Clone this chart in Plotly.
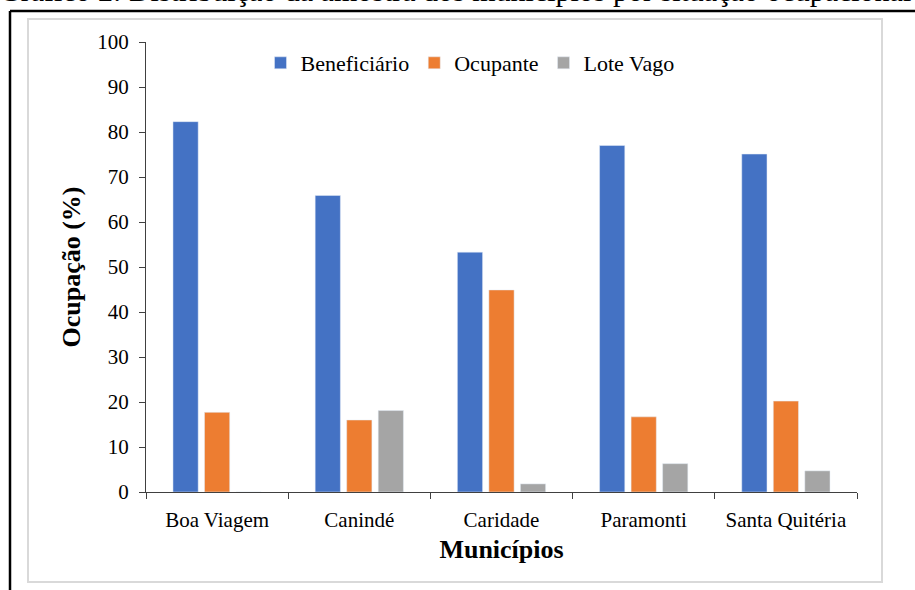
import plotly.graph_objects as go

categories = ["Boa Viagem", "Canindé", "Caridade", "Paramonti", "Santa Quitéria"]
beneficiario = [82.3, 65.9, 53.3, 77.0, 75.1]
ocupante = [17.7, 16.0, 44.9, 16.7, 20.2]
lote_vago = [0.0, 18.1, 1.8, 6.3, 4.7]
y_ticks = [0, 10, 20, 30, 40, 50, 60, 70, 80, 90, 100]

W, H = 915, 590
L, R, T, B = 146, 857, 42, 492


def px_x(p):
    return (p - L) / (R - L)


def px_y(p):
    return (B - p) / (B - T)


FONT = "Liberation Serif, Times New Roman, serif"

fig = go.Figure()
fig.add_bar(name="Beneficiário", x=categories, y=beneficiario, marker_color="#4472C4")
fig.add_bar(name="Ocupante", x=categories, y=ocupante, marker_color="#ED7D31")
fig.add_bar(name="Lote Vago", x=categories, y=lote_vago, marker_color="#A5A5A5")

fig.update_layout(
    width=W, height=H,
    margin=dict(l=L, r=W - R, t=T, b=H - B),
    paper_bgcolor="white", plot_bgcolor="white",
    barmode="group", bargap=0.335, bargroupgap=0.2,
    font=dict(family=FONT, size=21, color="black"),
    legend=dict(orientation="h", x=px_x(470), y=px_y(63), xanchor="center", yanchor="middle",
                font=dict(family=FONT, size=22, color="black"), itemwidth=30,
                bgcolor="rgba(0,0,0,0)"),
    showlegend=True,
)
fig.update_xaxes(
    showline=True, linecolor="#404040", linewidth=1,
    ticks="outside", tickson="boundaries", ticklen=6, tickcolor="#404040",
    tickfont=dict(family=FONT, size=21, color="black"), ticklabelstandoff=9,
    title=dict(text="<b>Municípios</b>", font=dict(family=FONT, size=26, color="black"), standoff=8),
    showgrid=False,
)
fig.update_yaxes(
    range=[0, 100], tickvals=y_ticks,
    showline=True, linecolor="#404040", linewidth=1,
    ticks="outside", ticklen=6, tickcolor="#404040",
    tickfont=dict(family=FONT, size=21, color="black"), ticklabelstandoff=6,
    title=dict(text="<b>Ocupação (%)</b>", font=dict(family=FONT, size=26, color="black"), standoff=9),
    showgrid=False, zeroline=False,
)

# outer figure frames
fig.add_shape(type="rect", xref="paper", yref="paper",
              x0=px_x(28), x1=px_x(882), y0=px_y(582), y1=px_y(19),
              line=dict(color="#D9D9D9", width=2), fillcolor="rgba(0,0,0,0)", layer="below")
fig.add_shape(type="line", xref="paper", yref="paper",
              x0=px_x(10), x1=px_x(930), y0=px_y(11), y1=px_y(11),
              line=dict(color="black", width=2.5))
fig.add_shape(type="line", xref="paper", yref="paper",
              x0=px_x(10), x1=px_x(10), y0=px_y(11), y1=px_y(610),
              line=dict(color="black", width=2.5))

# cut-off caption above the chart
fig.add_annotation(text="Gráfico 2: Distribuição da amostra dos municípios por situação ocupacional",
                   xref="paper", yref="paper", x=px_x(455), y=px_y(9),
                   xanchor="center", yanchor="bottom", showarrow=False,
                   font=dict(family=FONT, size=30, color="black"))

fig.write_html("out.html", post_script="document.body.style.margin='0';",
               config={"displayModeBar": False})
